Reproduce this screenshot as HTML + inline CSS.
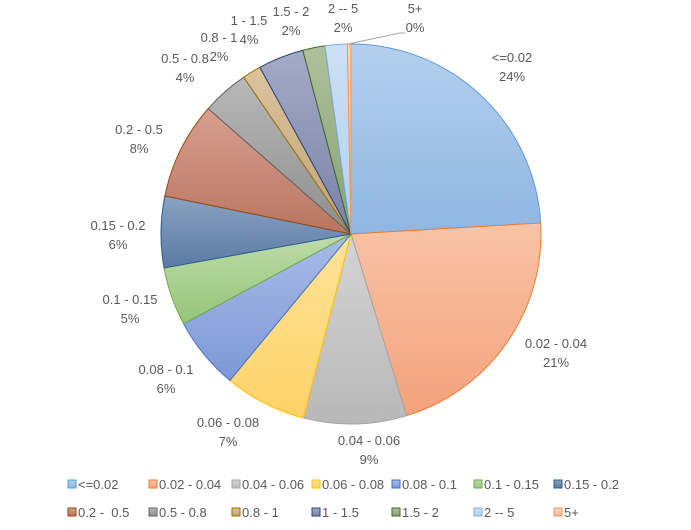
<!DOCTYPE html>
<html><head><meta charset="utf-8"><style>
body{margin:0;background:#fff;}
svg text{font-family:"Liberation Sans",sans-serif;font-size:13px;fill:#595959;}
</style></head><body>
<svg id="chart" width="691" height="525" xmlns="http://www.w3.org/2000/svg">
<defs id="defs"></defs>
<g id="slices"></g>
<g id="labels"></g>
<polyline points="405,33 400,33 348,44" fill="none" stroke="#a6a6a6" stroke-width="1"/>
<g id="legend"></g>
</svg>
<script>
const categories=["<=0.02","0.02 - 0.04","0.04 - 0.06","0.06 - 0.08","0.08 - 0.1","0.1 - 0.15","0.15 - 0.2","0.2 -  0.5","0.5 - 0.8","0.8 - 1","1 - 1.5","1.5 - 2","2 -- 5","5+"];
const values=[24.2,21.3,8.8,7.0,6.2,5.0,6.1,8.3,4.0,1.6,3.9,1.9,1.9,0.3];
const pctLabels=["24%","21%","9%","7%","6%","5%","6%","8%","4%","2%","4%","2%","2%","0%"];
const fills=[["#b4d0ee","#8fb6e2"],["#f8c3a6","#f4a27c"],["#d4d4d4","#b8b8b8"],["#ffe39a","#ffd266"],["#a9bce8","#7d98d6"],["#bfdcaa","#94c57a"],["#8aa2c2","#5b7aa4"],["#d8a090","#b87560"],["#b8b8b8","#8e8e8e"],["#dcc39e","#c2a276"],["#a3abc7","#7882a6"],["#adc19c","#88a273"],["#cde0f4","#b3cfee"],["#fad5bf","#f6b898"]];
const strokes=["#5b9bd5","#ed7d31","#a5a5a5","#ffc000","#4472c4","#70ad47","#255e91","#9e480e","#636363","#997300","#264478","#43682b","#7cafdd","#f1975a"];
const labelPos=[[512,58],[556,344],[369,441],[228,423],[166,370],[130,300],[118,226],[139,130],[185,59],[219,38],[249,21],[291,12],[343,9],[415,9]];
const NS="http://www.w3.org/2000/svg";
const cx=351,cy=234,r=190;
const defs=document.getElementById('defs'),gS=document.getElementById('slices'),gL=document.getElementById('labels'),gLeg=document.getElementById('legend');
const total=values.reduce((a,b)=>a+b,0);
function pt(a){return [cx+r*Math.sin(a),cy-r*Math.cos(a)];}
let ang=0;
values.forEach((v,i)=>{
  const lg=document.createElementNS(NS,'linearGradient');
  lg.setAttribute('id','g'+i);lg.setAttribute('x1','0');lg.setAttribute('y1','0');lg.setAttribute('x2','0');lg.setAttribute('y2','1');
  lg.innerHTML='<stop offset="0" stop-color="'+fills[i][0]+'"/><stop offset="1" stop-color="'+fills[i][1]+'"/>';
  defs.appendChild(lg);
  const a0=ang,a1=ang+v/total*2*Math.PI;ang=a1;
  const p0=pt(a0),p1=pt(a1);
  const path=document.createElementNS(NS,'path');
  path.setAttribute('d',`M${cx},${cy}L${p0[0]},${p0[1]}A${r},${r} 0 ${a1-a0>Math.PI?1:0} 1 ${p1[0]},${p1[1]}Z`);
  path.setAttribute('fill','url(#g'+i+')');path.setAttribute('stroke',strokes[i]);path.setAttribute('stroke-width','1');
  
  
  gS.appendChild(path);
  const [lx,ly]=labelPos[i];
  const t=document.createElementNS(NS,'text');
  t.setAttribute('x',lx);t.setAttribute('y',ly+4);t.setAttribute('text-anchor','middle');t.textContent=categories[i];
  
  
  gL.appendChild(t);
  const t2=document.createElementNS(NS,'text');
  t2.setAttribute('x',lx);t2.setAttribute('y',ly+23);t2.setAttribute('text-anchor','middle');t2.textContent=pctLabels[i];
  
  
  gL.appendChild(t2);
  const col=i%7,row=Math.floor(i/7);
  const lx0=[72,153,236,316,396,478,558][col],ly0=[484,512][row];
  const sq=document.createElementNS(NS,'rect');
  sq.setAttribute('x',lx0-4);sq.setAttribute('y',ly0-4);sq.setAttribute('width',8);sq.setAttribute('height',8);
  sq.setAttribute('fill','url(#g'+i+')');sq.setAttribute('stroke',strokes[i]);
  
  
  gLeg.appendChild(sq);
  const lt=document.createElementNS(NS,'text');
  lt.setAttribute('x',lx0+6);lt.setAttribute('y',ly0+5);lt.textContent=categories[i];lt.setAttribute('xml:space','preserve');lt.style.whiteSpace='pre';
  
  
  gLeg.appendChild(lt);
});
</script>
</body></html>
